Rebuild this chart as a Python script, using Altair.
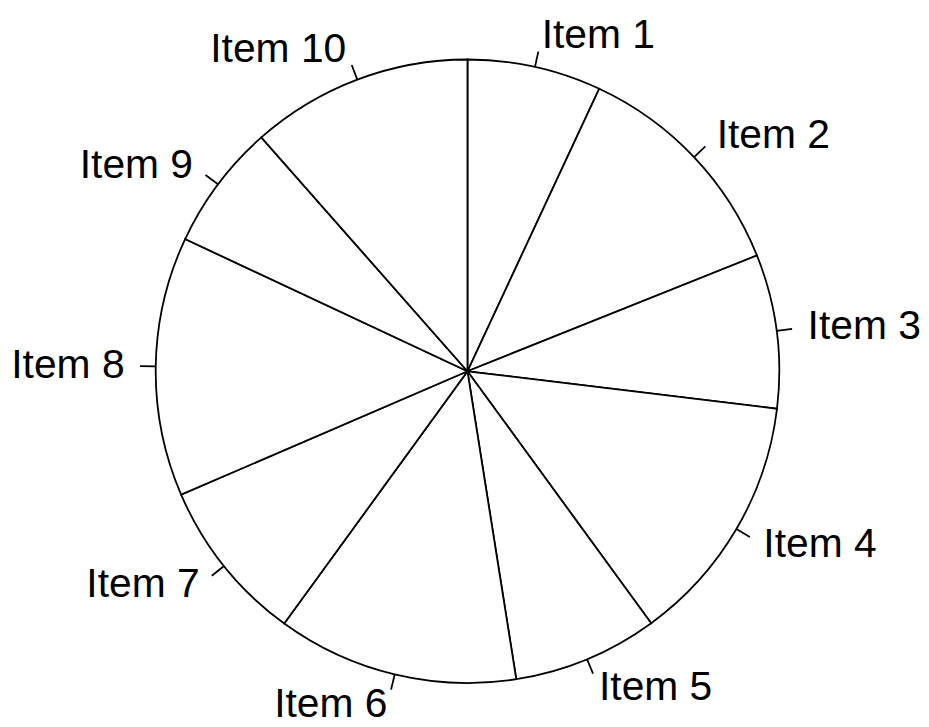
import altair as alt
import pandas as pd

items = ["Item 1", "Item 2", "Item 3", "Item 4", "Item 5",
         "Item 6", "Item 7", "Item 8", "Item 9", "Item 10"]
values = [25.0, 43.2, 28.7, 47.0, 27.1, 45.0, 30.7, 48.4, 23.5, 41.4]
order = list(range(1, 11))

df = pd.DataFrame({"item": items, "value": values, "idx": order})

W, H = 900, 700
R = 313.5
cx, cy = 462.0, 363.3  # center within view (page offset 8)

xs = alt.Scale(domain=[-cx / R, (W - cx) / R], range=[0, W])
ys = alt.Scale(domain=[-(H - cy) / R, cy / R], range=[H, 0])

base = alt.Chart(df)

pie = base.mark_arc(fill="white", stroke="black", strokeWidth=1.8, radius=R).encode(
    x=alt.X(datum=0, scale=xs, axis=None),
    y=alt.Y(datum=0, scale=ys, axis=None),
    theta=alt.Theta("value:Q", stack=True),
    order=alt.Order("idx:O"),
)

geo = base.transform_window(
    cum="sum(value)", sort=[alt.SortField("idx")]
).transform_joinaggregate(
    total="sum(value)"
).transform_calculate(
    ang="(datum.cum - datum.value/2) / datum.total * 2 * PI",
).transform_calculate(
    x1="sin(datum.ang)", y1="cos(datum.ang)",
    x2="1.05*sin(datum.ang)", y2="1.05*cos(datum.ang)",
    xl="1.1*sin(datum.ang)", yl="1.1*cos(datum.ang)",
    side="sin(datum.ang) < 0 ? 'L' : 'R'",
)

ticks = geo.mark_rule(color="black", strokeWidth=1.8).encode(
    x=alt.X("x1:Q", scale=xs, axis=None),
    y=alt.Y("y1:Q", scale=ys, axis=None),
    x2="x2:Q",
    y2="y2:Q",
)

labels_r = geo.transform_filter("datum.side == 'R'").mark_text(
    align="left", baseline="middle", font="Liberation Sans", fontSize=41, color="black"
).encode(
    x=alt.X("xl:Q", scale=xs, axis=None),
    y=alt.Y("yl:Q", scale=ys, axis=None),
    text="item:N",
)
labels_l = geo.transform_filter("datum.side == 'L'").mark_text(
    align="right", baseline="middle", font="Liberation Sans", fontSize=41, color="black"
).encode(
    x=alt.X("xl:Q", scale=xs, axis=None),
    y=alt.Y("yl:Q", scale=ys, axis=None),
    text="item:N",
)

chart = alt.layer(pie, ticks, labels_r, labels_l).properties(
    width=W, height=H, padding=0, background="white"
).configure_view(stroke=None)

chart.save("out.html", embed_options={"renderer": "svg", "actions": False})
